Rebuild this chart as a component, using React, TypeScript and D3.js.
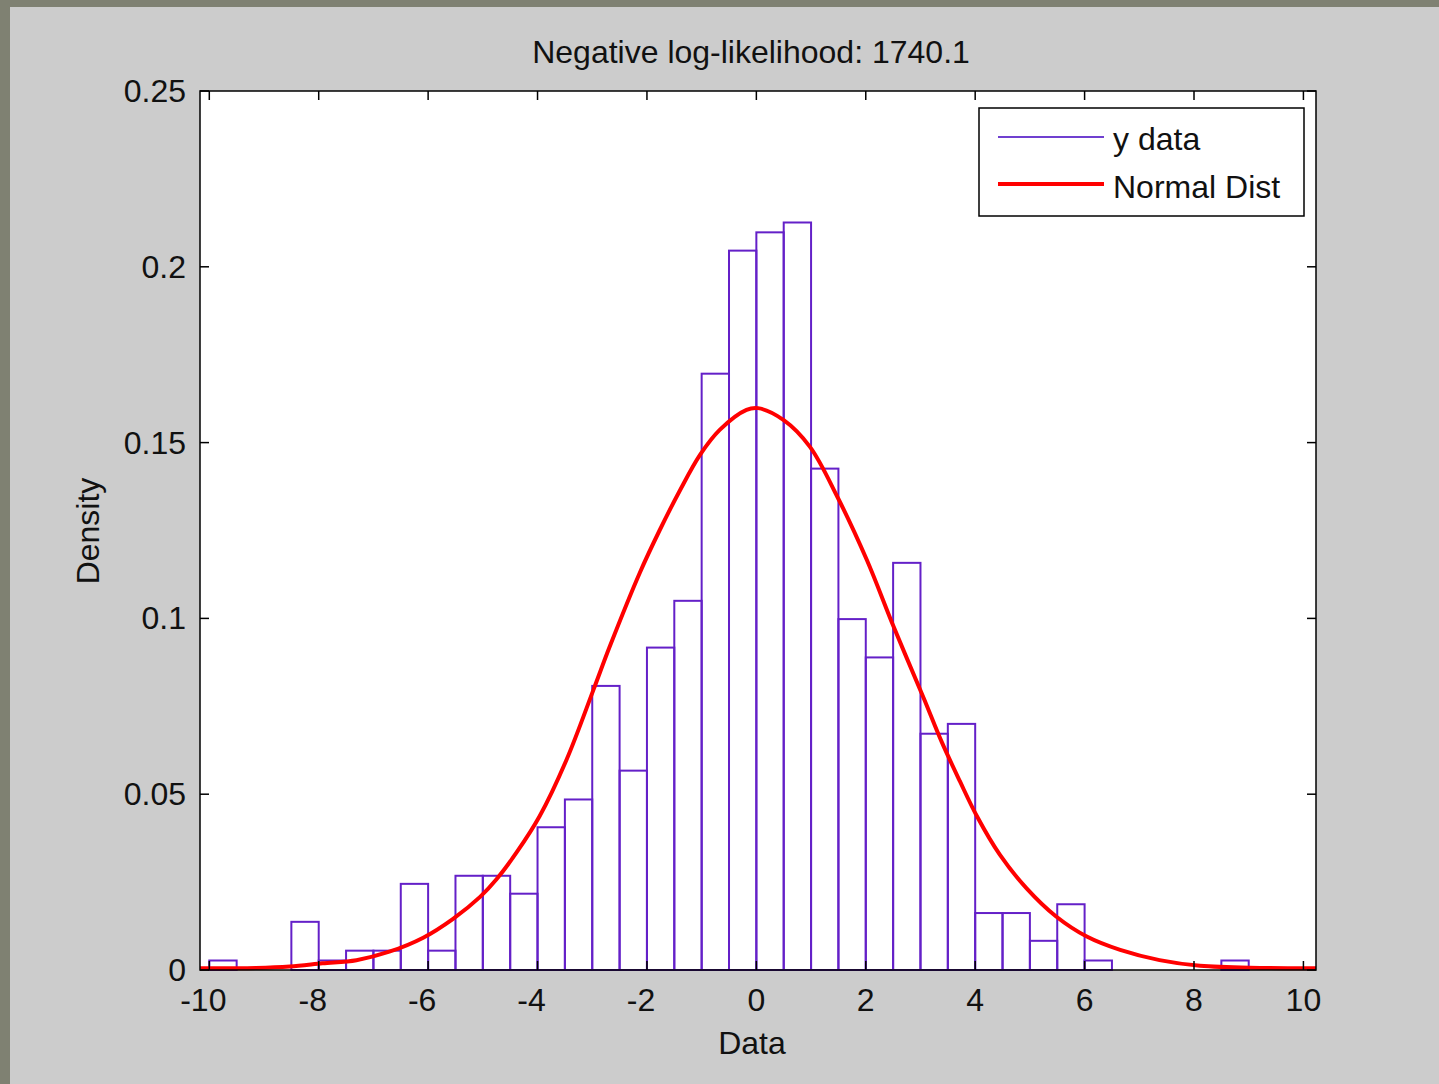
import React from "react";
import * as d3 from "d3";

// Histogram (density)
const binStart = -10;
const binWidth = 0.5;
const densities = [
  0.0027, 0, 0, 0.0137, 0.0027, 0.0055, 0.0055, 0.0245, 0.0055, 0.0268,
  0.0268, 0.0217, 0.0406, 0.0485, 0.0808, 0.0567, 0.0917, 0.105, 0.1696, 0.2046,
  0.2098, 0.2126, 0.1426, 0.0998, 0.0889, 0.1158, 0.0672, 0.07, 0.0162, 0.0162,
  0.0083, 0.0187, 0.0027, 0, 0, 0, 0, 0.0027,
];

// Fitted normal curve
const curveX = [
  -10.17, -9.15, -8.53, -7.93, -7.31, -6.71, -6.09, -5.55, -5.05, -4.75, -4.38, -3.96,
  -3.47, -2.98, -2.68, -2.13, -1.77, -1.4, -1.03, -0.67, -0.18, 0.03, 0.5, 0.98, 1.48,
  2.02, 2.51, 3.06, 3.39, 3.72, 4.03, 4.45, 4.94, 5.48, 6.04, 6.65, 7.37, 8.11, 9.21,
  10.23,
];
const curveY = [
  0.0005, 0.0006, 0.001, 0.0019, 0.0028, 0.0052, 0.0092, 0.0145, 0.0208, 0.0258,
  0.0335, 0.0438, 0.0598, 0.0796, 0.092, 0.113, 0.125, 0.1363, 0.1465, 0.1536,
  0.1593, 0.1598, 0.1564, 0.1488, 0.1346, 0.1166, 0.0976, 0.0773, 0.0648, 0.0537,
  0.0438, 0.0328, 0.0232, 0.0152, 0.0095, 0.0057, 0.0028, 0.0012, 0.0006, 0.0005,
];

const xTicks = [-10, -8, -6, -4, -2, 0, 2, 4, 6, 8, 10];
const yTicks = [0, 0.05, 0.1, 0.15, 0.2, 0.25];
const yTickLabels = ["0", "0.05", "0.1", "0.15", "0.2", "0.25"];

const title = "Negative log-likelihood: 1740.1";
const xLabel = "Data";
const yLabel = "Density";
const legendLabels = ["y data", "Normal Dist"];

const W = 1439;
const H = 1084;
const L = 200, R = 1316, T = 91, B = 970;
const purple = "#6420c8";
const red = "#ff0000";
const font = "'Liberation Sans', Arial, sans-serif";

export default function App() {
  React.useEffect(() => {
    document.body.style.margin = "0";
  }, []);
  const x = d3.scaleLinear().domain([-10.17, 10.23]).range([L, R]);
  const y = d3.scaleLinear().domain([0, 0.25]).range([B, T]);
  const line = d3
    .line<number>()
    .x((_, i) => x(curveX[i]))
    .y((d) => y(d))
    .curve(d3.curveCatmullRom.alpha(0.5));
  const tickLen = 9;
  return (
    <svg
      width={W}
      height={H}
      style={{ position: "absolute", left: 0, top: 0, display: "block" }}
      fontFamily={font}
    >
      <defs>
        <clipPath id="plotclip">
          <rect x={L} y={T} width={R - L} height={B - T + 2} />
        </clipPath>
      </defs>
      <rect x={0} y={0} width={W} height={H} fill="#cccccc" />
      <rect x={0} y={0} width={10} height={H} fill="#7f8172" />
      <rect x={0} y={0} width={W} height={7} fill="#7f8172" />
      <rect x={L} y={T} width={R - L} height={B - T} fill="#ffffff" />

      {/* bars */}
      <g clipPath="url(#plotclip)">
        {densities.map((d, i) =>
          d > 0 ? (
            <rect
              key={i}
              x={x(binStart + i * binWidth)}
              y={y(d)}
              width={x(binStart + (i + 1) * binWidth) - x(binStart + i * binWidth)}
              height={B - y(d)}
              fill="none"
              stroke={purple}
              strokeWidth={2}
            />
          ) : null
        )}
        <path d={line(curveY) || ""} fill="none" stroke={red} strokeWidth={4} />
      </g>

      {/* frame */}
      <rect x={L} y={T} width={R - L} height={B - T} fill="none" stroke="#000" strokeWidth={1.5} />
      {xTicks.map((t) => (
        <g key={"xt" + t}>
          <line x1={x(t)} x2={x(t)} y1={B} y2={B - tickLen} stroke="#000" strokeWidth={1.5} />
          <line x1={x(t)} x2={x(t)} y1={T} y2={T + tickLen} stroke="#000" strokeWidth={1.5} />
          <text x={x(t) - (t < 0 ? 6 : 0)} y={1011} fontSize={32} textAnchor="middle" fill="#111">
            {t}
          </text>
        </g>
      ))}
      {yTicks.map((t, i) => (
        <g key={"yt" + t}>
          <line x1={L} x2={L + tickLen} y1={y(t)} y2={y(t)} stroke="#000" strokeWidth={1.5} />
          <line x1={R} x2={R - tickLen} y1={y(t)} y2={y(t)} stroke="#000" strokeWidth={1.5} />
          <text x={186} y={y(t) + 11} fontSize={32} textAnchor="end" fill="#111">
            {yTickLabels[i]}
          </text>
        </g>
      ))}

      {/* title and labels */}
      <text x={751} y={63} fontSize={32} textAnchor="middle" fill="#111">
        {title}
      </text>
      <text x={752} y={1054} fontSize={32} textAnchor="middle" fill="#111">
        {xLabel}
      </text>
      <text
        transform={`translate(99,531) rotate(-90)`}
        fontSize={32}
        textAnchor="middle"
        fill="#111"
      >
        {yLabel}
      </text>

      {/* legend */}
      <rect x={979} y={108} width={325} height={108} fill="#ffffff" stroke="#000" strokeWidth={1.5} />
      <line x1={998} x2={1104} y1={137} y2={137} stroke="#7040d0" strokeWidth={2} />
      <text x={1113} y={150} fontSize={32} fill="#111">
        {legendLabels[0]}
      </text>
      <line x1={998} x2={1104} y1={184} y2={184} stroke={red} strokeWidth={4} />
      <text x={1113} y={198} fontSize={32} fill="#111">
        {legendLabels[1]}
      </text>
    </svg>
  );
}
